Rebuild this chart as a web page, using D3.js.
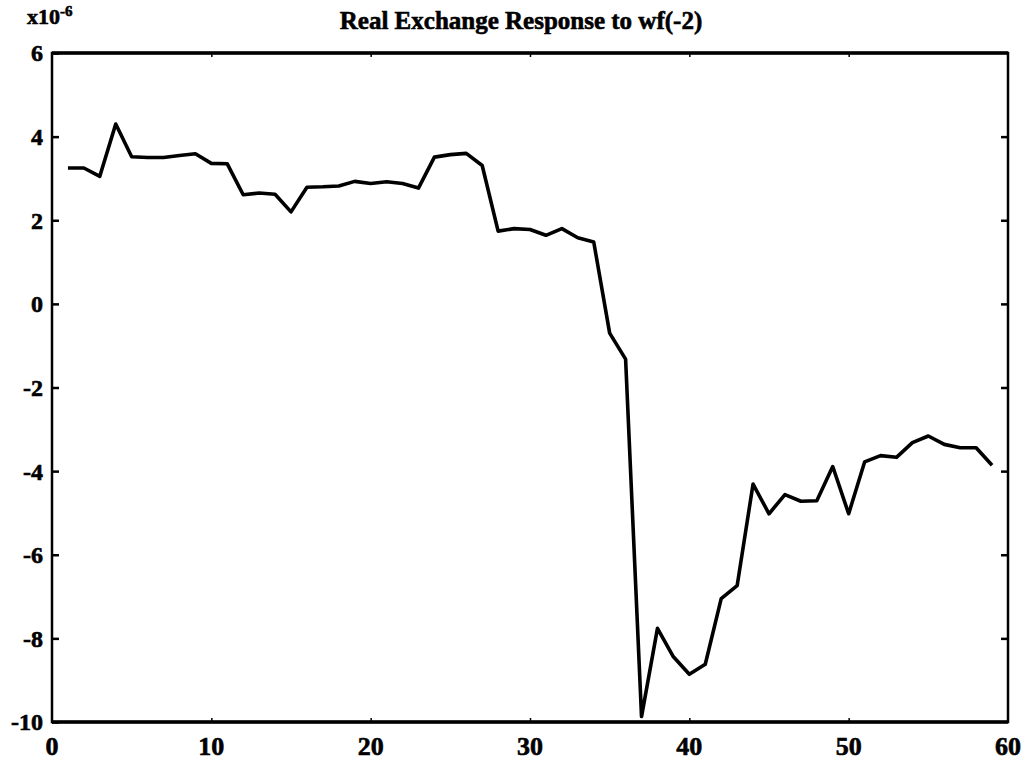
<!DOCTYPE html>
<html>
<head>
<meta charset="utf-8">
<script src="https://cdn.jsdelivr.net/npm/d3@7"></script>
<style>
  html, body { margin: 0; padding: 0; background: #fff; }
  svg { display: block; }
  text { font-family: "Liberation Serif", "Times New Roman", serif; font-weight: bold; fill: #000; stroke: #000; stroke-width: 0.6px; }
</style>
</head>
<body>
<svg id="chart" width="1025" height="762"></svg>
<script>
// Data (values in units of 1e-6)
const periods = d3.range(1, 60);
const response = [
  3.25, 3.25, 3.05, 4.30, 3.52, 3.50, 3.50, 3.55, 3.59, 3.36,
  3.35, 2.61, 2.65, 2.62, 2.20, 2.79, 2.80, 2.82, 2.93, 2.88,
  2.92, 2.88, 2.77, 3.51, 3.57, 3.60, 3.31, 1.74, 1.80, 1.78,
  1.64, 1.80, 1.58, 1.48, -0.70, -1.32, -9.87, -7.76, -8.44, -8.86,
  -8.62, -7.05, -6.74, -4.31, -5.02, -4.56, -4.72, -4.71, -3.89, -5.02,
  -3.78, -3.63, -3.67, -3.32, -3.16, -3.36, -3.44, -3.44, -3.86
];
const xTicks = [0, 10, 20, 30, 40, 50, 60];
const yTicks = [6, 4, 2, 0, -2, -4, -6, -8, -10];
const titleText = "Real Exchange Response to wf(-2)";

(function () {
const svg = d3.select("#chart");
const mL = 52, mR = 1008, mT = 53, mB = 722;

const x = d3.scaleLinear().domain([0, 60]).range([mL, mR]);
const y = d3.scaleLinear().domain([-10, 6]).range([mB, mT]);

// Frame
svg.append("rect")
  .attr("x", mL).attr("y", mT)
  .attr("width", mR - mL).attr("height", mB - mT)
  .attr("fill", "none").attr("stroke", "#000").attr("stroke-width", 2.5);
svg.append("line").attr("x1", mL).attr("x2", mR).attr("y1", mT).attr("y2", mT)
  .attr("stroke", "#000").attr("stroke-width", 3.5);
svg.append("line").attr("x1", mL).attr("x2", mR).attr("y1", mB).attr("y2", mB)
  .attr("stroke", "#000").attr("stroke-width", 3.5);

// Left axis (ticks inward)
const yAxisL = svg.append("g").attr("transform", `translate(${mL},0)`)
  .call(d3.axisRight(y).tickValues(yTicks).tickSize(7).tickFormat(""));
yAxisL.select(".domain").remove();
yAxisL.selectAll("line").attr("stroke", "#000").attr("stroke-width", 2.5);

// Right axis (ticks inward)
const yAxisR = svg.append("g").attr("transform", `translate(${mR},0)`)
  .call(d3.axisLeft(y).tickValues(yTicks.slice(1, -1)).tickSize(7).tickFormat(""));
yAxisR.select(".domain").remove();
yAxisR.selectAll("line").attr("stroke", "#000").attr("stroke-width", 2.5);

// Bottom / top small ticks
const xAxisB = svg.append("g").attr("transform", `translate(0,${mB})`)
  .call(d3.axisTop(x).tickValues(xTicks.slice(1, -1)).tickSize(4).tickFormat(""));
xAxisB.select(".domain").remove();
xAxisB.selectAll("line").attr("stroke", "#000").attr("stroke-width", 1.5);
const xAxisT = svg.append("g").attr("transform", `translate(0,${mT})`)
  .call(d3.axisBottom(x).tickValues(xTicks.slice(1, -1)).tickSize(4).tickFormat(""));
xAxisT.select(".domain").remove();
xAxisT.selectAll("line").attr("stroke", "#000").attr("stroke-width", 1.5);

// Y tick labels
svg.append("g").selectAll("text").data(yTicks).join("text")
  .attr("x", mL - 9).attr("y", d => y(d)).attr("dy", "0.35em")
  .attr("text-anchor", "end").attr("font-size", 24)
  .text(d => d);

// X tick labels
svg.append("g").selectAll("text").data(xTicks).join("text")
  .attr("x", d => x(d)).attr("y", mB + 33)
  .attr("text-anchor", "middle").attr("font-size", 26)
  .text(d => d);

// Exponent label
const ex = svg.append("text").attr("x", 27).attr("y", 24).attr("font-size", 22);
ex.append("tspan").text("x10");
ex.append("tspan").attr("dy", -8).attr("font-size", 15).text("-6");

// Title
svg.append("text").attr("x", 521).attr("y", 29)
  .attr("text-anchor", "middle").attr("font-size", 25)
  .text(titleText);

// Line
const line = d3.line().x((d, i) => x(periods[i])).y(d => y(d));
svg.append("path").datum(response)
  .attr("d", line)
  .attr("fill", "none").attr("stroke", "#000")
  .attr("stroke-width", 3.6).attr("stroke-linejoin", "round");
})();
</script>
</body>
</html>
